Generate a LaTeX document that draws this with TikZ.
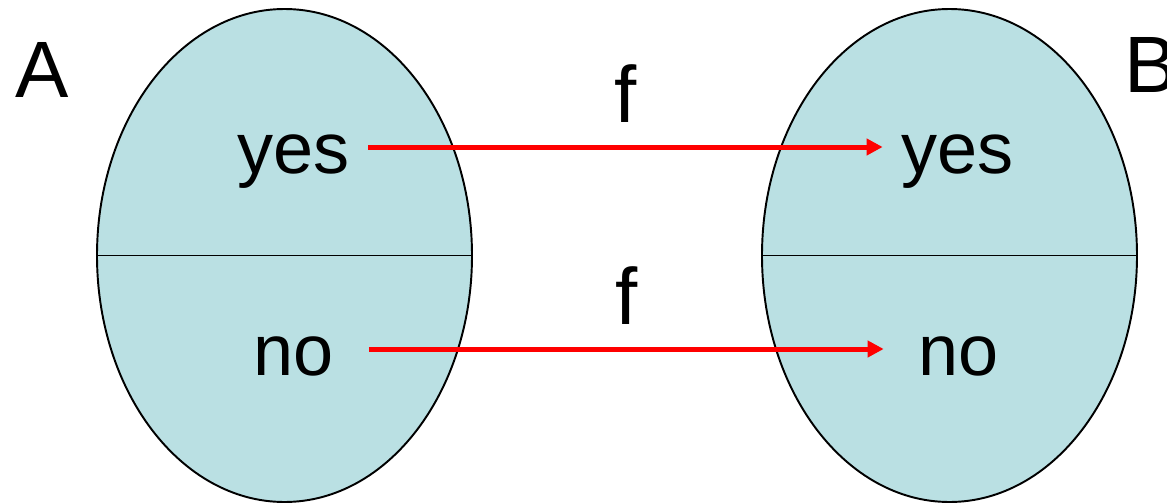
\documentclass[tikz,border=0pt]{standalone}
\usepackage{fontspec}
\setmainfont{Liberation Sans}
\usepackage{tikz}
\usetikzlibrary{arrows.meta,shapes.geometric}

\definecolor{setblue}{RGB}{186,224,227}

\begin{document}
\begin{tikzpicture}[
    setshape/.style={draw, line width=1.1pt, fill=setblue, ellipse, inner sep=0pt, minimum width=7.5cm, minimum height=9.86cm},
    elem/.style={anchor=base, inner sep=0pt, minimum width=2.98cm, text height=1.04cm, text depth=0pt, font=\fontsize{41}{49}\selectfont},
    setname/.style={anchor=base west, inner sep=0pt, font=\fontsize{45.5}{54}\selectfont},
    flabel/.style={inner sep=0pt, text depth=0pt, text=black, font=\fontsize{45.5}{54}\selectfont},
    maparrow/.style={-{Triangle[length=0.32cm, width=0.32cm]}, line width=0.1cm, red}
  ]
    \useasboundingbox (0,0) rectangle (23.34,10.06);

    \node[setshape] (setA) at (5.69,4.95) {};
    \node[setshape] (setB) at (18.99,4.95) {};
    \draw[line width=1.1pt] (setA.west) -- (setA.east);
    \draw[line width=1.1pt] (setB.west) -- (setB.east);

    \node[setname] (nameA) at (0.30,8.12) {A};
    \node[setname] (nameB) at (22.48,8.22) {B};

    \node[elem] (yesA) at (5.87,6.60) {yes};
    \node[elem] (noA)  at (5.88,2.56) {no};
    \node[elem] (yesB) at (19.15,6.60) {yes};
    \node[elem] (noB)  at (19.17,2.56) {no};

    \draw[maparrow] (yesA) -- node[flabel, above=0.44cm] {f} (yesB);
    \draw[maparrow] (noA) -- node[flabel, above=0.44cm] {f} (noB);
  \end{tikzpicture}
\end{document}
